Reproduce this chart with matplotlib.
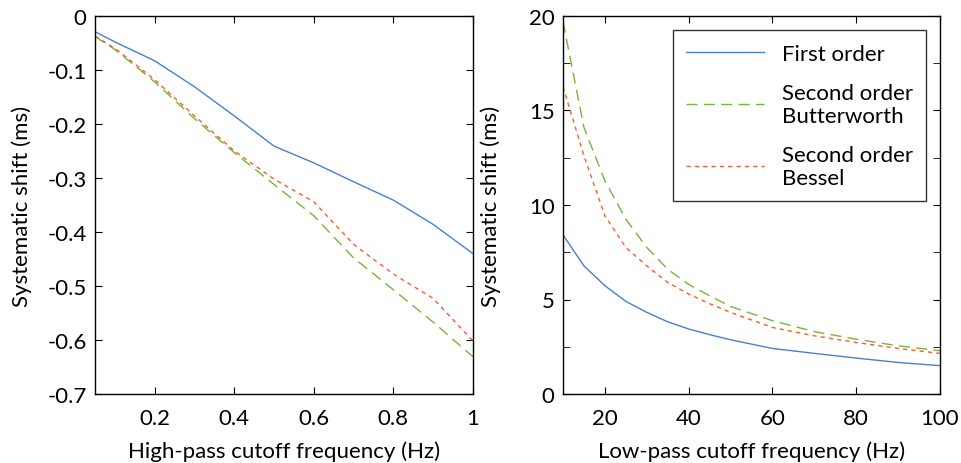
import matplotlib
matplotlib.use('Agg')
import matplotlib.pyplot as plt
from matplotlib.ticker import MultipleLocator

plt.rcParams['font.family'] = ['Lato', 'DejaVu Sans']

# high-pass data
hp_freq = [0.05, 0.1, 0.2, 0.3, 0.4, 0.5, 0.6, 0.7, 0.8, 0.9, 1.0]
hp_first = [-0.029, -0.048, -0.083, -0.131, -0.185, -0.241, -0.272, -0.307, -0.341, -0.386, -0.44]
hp_butter = [-0.038, -0.062, -0.122, -0.19, -0.253, -0.312, -0.37, -0.448, -0.507, -0.567, -0.631]
hp_bessel = [-0.037, -0.06, -0.118, -0.185, -0.25, -0.302, -0.344, -0.423, -0.478, -0.523, -0.602]

# low-pass data
lp_freq = [10, 15, 20, 25, 30, 35, 40, 45, 50, 60, 70, 80, 90, 100]
lp_first = [8.42, 6.78, 5.73, 4.9, 4.32, 3.82, 3.44, 3.14, 2.87, 2.41, 2.15, 1.9, 1.67, 1.5]
lp_butter = [19.7, 14.1, 11.28, 9.25, 7.75, 6.6, 5.8, 5.2, 4.63, 3.88, 3.3, 2.9, 2.55, 2.29]
lp_bessel = [16.26, 12.6, 9.43, 7.75, 6.78, 5.9, 5.29, 4.78, 4.32, 3.52, 3.08, 2.73, 2.41, 2.15]

blue = '#4a7fcf'
green = '#78b43a'
red = '#ff5a26'

fig = plt.figure(figsize=(9.61, 4.64), dpi=100)
ax1 = fig.add_axes([95 / 961, 69 / 464, 378 / 961, 378 / 464])
ax2 = fig.add_axes([563 / 961, 69 / 464, 377 / 961, 378 / 464])

ax1.plot(hp_freq, hp_first, color=blue, lw=1)
ax1.plot(hp_freq, hp_butter, color=green, lw=1, dashes=(8, 4.5))
ax1.plot(hp_freq, hp_bessel, color=red, lw=1, dashes=(3, 3))
ax1.set_xlim(0.05, 1)
ax1.set_ylim(-0.7, 0)
ax1.set_xticks([0.2, 0.4, 0.6, 0.8, 1.0])
ax1.set_xticklabels(['0.2', '0.4', '0.6', '0.8', '1'])
ax1.set_yticks([0, -0.1, -0.2, -0.3, -0.4, -0.5, -0.6, -0.7])
ax1.set_yticklabels(['0', '-0.1', '-0.2', '-0.3', '-0.4', '-0.5', '-0.6', '-0.7'])
ax1.set_xlabel('High-pass cutoff frequency (Hz)', fontsize=16, va='center')
ax1.set_ylabel('Systematic shift (ms)', fontsize=16, va='center')

ax2.plot(lp_freq, lp_first, color=blue, lw=1, label='First order')
ax2.plot(lp_freq, lp_butter, color=green, lw=1, dashes=(8, 4.5), label='Second order\nButterworth')
ax2.plot(lp_freq, lp_bessel, color=red, lw=1, dashes=(3, 3), label='Second order\nBessel')
ax2.set_xlim(10, 100)
ax2.set_ylim(0, 20)
ax2.set_xticks([20, 40, 60, 80, 100])
ax2.set_yticks([0, 5, 10, 15, 20])
ax2.yaxis.set_minor_locator(MultipleLocator(2.5))
ax2.set_xlabel('Low-pass cutoff frequency (Hz)', fontsize=16, va='center')
ax2.set_ylabel('Systematic shift (ms)', fontsize=16, va='center')
leg = ax2.legend(loc='upper right', bbox_to_anchor=(0.963, 0.962), borderaxespad=0,
                 fontsize=16, frameon=True, fancybox=False, edgecolor='black',
                 handlelength=3.5, handletextpad=0.8, labelspacing=0.85, borderpad=0.6)
leg.get_frame().set_linewidth(1)

for ax in (ax1, ax2):
    ax.tick_params(which='both', direction='in', top=True, right=True, labelsize=16)
    ax.tick_params(axis='x', pad=10)
    ax.tick_params(axis='y', pad=6)
    ax.tick_params(which='major', length=5)
    ax.tick_params(which='minor', length=5)
    ax.xaxis.set_label_coords(0.5, -0.151)
    ax.yaxis.set_label_coords(-0.193, 0.5)
    for s in ax.spines.values():
        s.set_linewidth(1)

fig.savefig('out.png', dpi=100)
